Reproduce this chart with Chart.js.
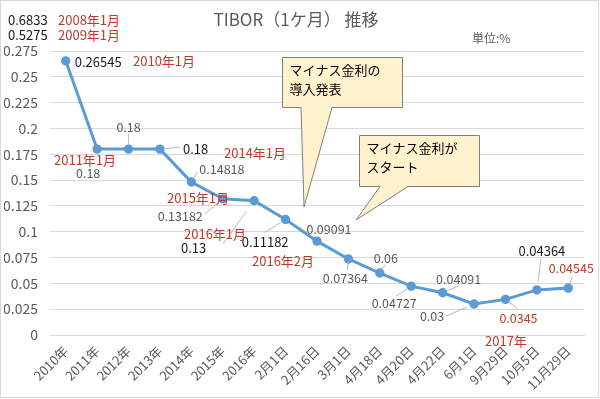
<!DOCTYPE html>
<html>
<head>
<meta charset="utf-8">
<script src="https://cdn.jsdelivr.net/npm/chart.js@4"></script>
<style>
  html, body { margin: 0; padding: 0; background: #fff; }
  #wrap { width: 600px; height: 399px; }
</style>
</head>
<body>
<div id="wrap"><canvas id="chart" width="600" height="399"></canvas></div>
<script>
// 横軸のラベル
var categories = ["2010年", "2011年", "2012年", "2013年", "2014年", "2015年", "2016年",
                  "2月1日", "2月16日", "3月1日", "4月18日", "4月20日", "4月22日",
                  "6月1日", "9月29日", "10月5日", "11月29日"];

// TIBOR 1ヶ月 (%)
var tibor = [0.26545, 0.18, 0.18, 0.18, 0.14818, 0.13182, 0.13, 0.11182, 0.09091,
             0.07364, 0.06, 0.04727, 0.04091, 0.03, 0.0345, 0.04364, 0.04545];

// 縦軸
var yTicks = [0, 0.025, 0.05, 0.075, 0.1, 0.125, 0.15, 0.175, 0.2, 0.225, 0.25, 0.275];

// 過去の値（グラフ外）
var pastValues = ["0.6833", "0.5275"];
var pastDates  = ["2008年1月", "2009年1月"];

var FONT = "'Noto Sans CJK JP', 'Noto Sans', sans-serif";
var RED = "#C0392B";
var GRAY = "#595959";
var DARK = "#1a1a1a";

// 値ラベルの置き方: [dx, dy, 揃え, 色, 引き出し線の終点dx, dy]
var labelLayout = [
  [9, 1, "left", DARK, null],
  [-9, 24, "center", GRAY, null],
  [0, -22, "center", GRAY, [0, -15]],
  [23, 0, "left", DARK, [20, -2]],
  [8, -13, "left", GRAY, [6, -10]],
  [-20, 17, "right", GRAY, [-18, 15]],
  [-48, 47, "right", DARK, [-31, 43]],
  [3, 23, "right", DARK, [-21, 13]],
  [12, -12, "center", GRAY, null],
  [-3, 19, "center", GRAY, [-1, 10]],
  [6, -15, "center", GRAY, [5, -8]],
  [-17, 17, "center", GRAY, [-15, 10]],
  [16, -14, "center", GRAY, [16, -7]],
  [-42, 12, "center", GRAY, [-28, 12]],
  [13, 19, "center", RED, [13, 10]],
  [5, -39, "center", DARK, [4, -31]],
  [3, -20, "center", RED, [4, -12]]
];

// 赤い日付メモ
var notes = [
  ["2010年1月", 133, 61], ["2011年1月", 54, 160], ["2014年1月", 224, 153],
  ["2015年1月", 167, 198], ["2016年1月", 184, 234], ["2016年2月", 252, 261],
  ["2017年", 485, 341]
];

var decor = {
  id: "decor",
  afterDraw: function (chart) {
    var c = chart.ctx;
    var meta = chart.getDatasetMeta(0);
    c.save();
    // 外枠
    c.strokeStyle = "#D9D9D9";
    c.lineWidth = 1;
    c.strokeRect(0.5, 0.5, 598, 397);

    // タイトル
    c.fillStyle = GRAY;
    c.font = "17px " + FONT;
    c.textAlign = "center";
    c.textBaseline = "middle";
    c.fillText("TIBOR（1ケ月） 推移", 296, 20);
    c.font = "12px " + FONT;
    c.textAlign = "left";
    c.fillText("単位:%", 472, 38);

    // 過去の値
    c.font = "13px " + FONT;
    for (var k = 0; k < pastValues.length; k++) {
      c.fillStyle = DARK;
      c.fillText(pastValues[k], 8, 20 + k * 15);
      c.fillStyle = RED;
      c.fillText(pastDates[k], 58, 20 + k * 15);
    }

    // 値ラベル
    meta.data.forEach(function (pt, i) {
      var L = labelLayout[i];
      if (L[4]) {
        c.strokeStyle = "#A6A6A6";
        c.lineWidth = 0.8;
        c.beginPath();
        c.moveTo(pt.x + L[4][0] * 0.25, pt.y + L[4][1] * 0.25);
        c.lineTo(pt.x + L[4][0], pt.y + L[4][1]);
        c.stroke();
      }
      c.fillStyle = L[3];
      c.font = (L[3] === DARK ? "13px " : "12.5px ") + FONT;
      c.textAlign = L[2];
      c.fillText(String(tibor[i]), pt.x + L[0], pt.y + L[1]);
    });

    // 日付メモ
    c.fillStyle = RED;
    c.font = "13px " + FONT;
    c.textAlign = "left";
    notes.forEach(function (n) { c.fillText(n[0], n[1], n[2]); });

    // 吹き出し
    function callout(x, y, w, h, b1, b2, tx, ty, lines) {
      c.beginPath();
      c.moveTo(x, y);
      c.lineTo(x + w, y);
      c.lineTo(x + w, y + h);
      c.lineTo(b2, y + h);
      c.lineTo(tx, ty);
      c.lineTo(b1, y + h);
      c.lineTo(x, y + h);
      c.closePath();
      c.fillStyle = "#FFF2CC";
      c.fill();
      c.strokeStyle = "#7F7F7F";
      c.lineWidth = 1;
      c.stroke();
      c.fillStyle = "#000";
      c.font = "13px " + FONT;
      c.textAlign = "left";
      lines.forEach(function (s, j) { c.fillText(s, x + 7, y + 13 + j * 19); });
    }
    callout(282.5, 57.5, 120, 50, 301, 332, 304, 207, ["マイナス金利の", "導入発表"]);
    callout(359.5, 135.5, 120, 51, 380, 408, 356, 220, ["マイナス金利が", "スタート"]);
    c.restore();
  }
};

new Chart(document.getElementById("chart").getContext("2d"), {
  type: "line",
  data: {
    labels: categories,
    datasets: [{
      data: tibor,
      borderColor: "#5B9BD5",
      backgroundColor: "#5B9BD5",
      borderWidth: 3,
      pointRadius: 3.2,
      pointHoverRadius: 3.2,
      tension: 0
    }]
  },
  options: {
    responsive: false,
    animation: false,
    events: [],
    layout: { padding: { top: 51, left: 4, right: 16, bottom: 0 } },
    plugins: { legend: { display: false }, tooltip: { enabled: false } },
    scales: {
      x: {
        offset: true,
        afterFit: function (scale) {
          scale.paddingLeft = 0;
          scale.paddingRight = 0;
          scale.height = 64;
        },
        grid: { display: false, drawTicks: false },
        border: { color: "#D9D9D9" },
        ticks: {
          color: GRAY, font: { size: 13, family: FONT },
          maxRotation: 45, minRotation: 45, padding: 8, autoSkip: false
        }
      },
      y: {
        min: 0, max: 0.275,
        afterBuildTicks: function (axis) {
          axis.ticks = yTicks.map(function (v) { return { value: v }; });
        },
        afterFit: function (scale) { scale.width = 46; },
        grid: { color: "#D9D9D9", drawTicks: false },
        border: { display: false },
        ticks: {
          color: GRAY, font: { size: 14, family: FONT }, padding: 12,
          callback: function (v) { return String(Number(v.toFixed(3))); }
        }
      }
    }
  },
  plugins: [decor]
});
</script>
</body>
</html>
